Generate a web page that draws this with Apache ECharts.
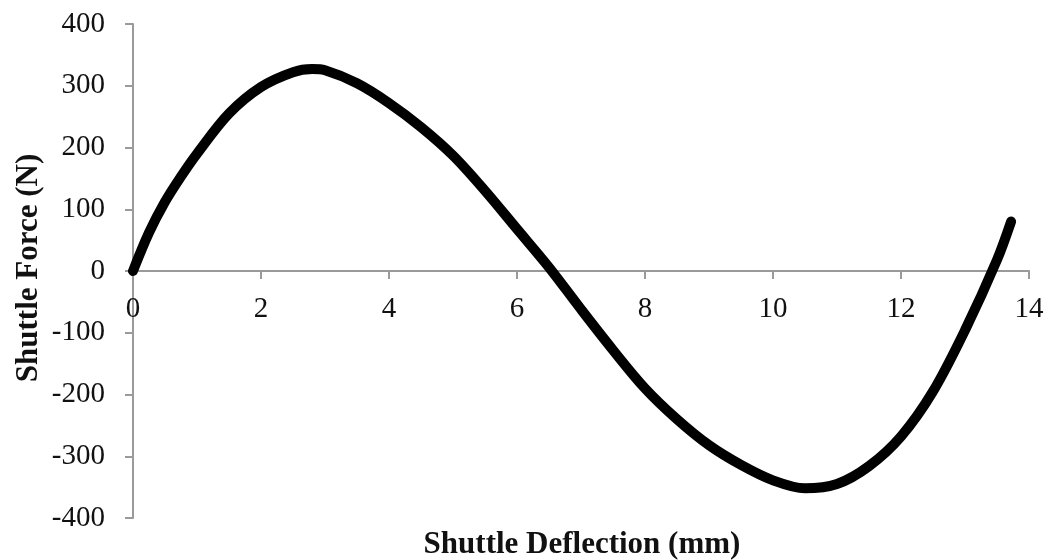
<!DOCTYPE html>
<html>
<head>
<meta charset="utf-8">
<script src="https://cdn.jsdelivr.net/npm/echarts@6/dist/echarts.min.js"></script>
<style>
html, body { margin: 0; padding: 0; background: #fff; }
#chart { width: 1050px; height: 560px; }
</style>
</head>
<body>
<div id="chart"></div>
<script>
// shuttle deflection (mm) and force (N)
var deflection = [0, 0.25, 0.5, 0.75, 1.0, 1.5, 2.0, 2.5, 2.8, 3.0, 3.5, 4.0, 4.5, 5.0, 5.5, 6.0, 6.5,
                  7.0, 7.5, 8.0, 8.5, 9.0, 9.5, 10.0, 10.5, 11.0, 11.5, 12.0, 12.5, 13.0, 13.5, 13.72];
var force = [0, 62, 112, 153, 190, 255, 298, 322, 327, 325, 304, 272, 233, 187, 130, 68, 6,
             -62, -128, -190, -240, -282, -314, -339, -352, -345, -316, -268, -195, -96, 18, 80];

var xTitle = 'Shuttle Deflection (mm)';
var yTitle = 'Shuttle Force (N)';

var points = deflection.map(function (d, i) { return [d, force[i]]; });

var axisGray = '#9a9a9a';
var serif = '"Liberation Serif", "Times New Roman", serif';

var myChart = echarts.init(document.getElementById('chart'));
var option = {
    animation: false,
    grid: { left: 133, right: 21, top: 24, bottom: 42 },
    xAxis: {
        type: 'value',
        min: 0, max: 14, interval: 2,
        position: 'bottom',
        offset: -247,   // sit on the zero line, labels included
        axisLine: { onZero: false, lineStyle: { color: axisGray, width: 2 } },
        axisTick: { show: true, length: 8, lineStyle: { color: axisGray, width: 2 } },
        axisLabel: { color: '#111', fontFamily: serif, fontSize: 29, margin: 24 },
        splitLine: { show: false }
    },
    yAxis: {
        type: 'value',
        min: -400, max: 400, interval: 100,
        axisLine: { show: true, lineStyle: { color: axisGray, width: 2 } },
        axisTick: { show: true, length: 8, lineStyle: { color: axisGray, width: 2 } },
        axisLabel: { color: '#111', fontFamily: serif, fontSize: 29, margin: 28, padding: [8, 0, 0, 0] },
        splitLine: { show: false }
    },
    graphic: [
        {
            type: 'text', x: 582, y: 545,
            style: { text: xTitle, fill: '#111', font: 'bold 31px ' + serif, align: 'center', verticalAlign: 'middle' }
        },
        {
            type: 'text', x: 29, y: 268, rotation: Math.PI / 2,
            style: { text: yTitle, fill: '#111', font: 'bold 31px ' + serif, align: 'center', verticalAlign: 'middle' }
        }
    ],
    series: [{
        type: 'line',
        data: points,
        smooth: 0.33,
        showSymbol: false,
        lineStyle: { color: '#000', width: 10, cap: 'round' }
    }]
};
myChart.setOption(option, true);
window.addEventListener('resize', function () { myChart.resize(); });
</script>
</body>
</html>
